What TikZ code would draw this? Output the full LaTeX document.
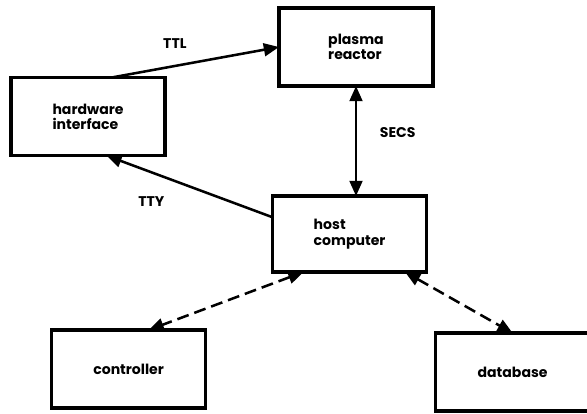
\documentclass[tikz,border=0pt]{standalone}
\usepackage{fontspec}
\setmainfont{Poppins}
\usetikzlibrary{arrows.meta,positioning,calc}

\begin{document}
\begin{tikzpicture}[
  node distance=2cm and 3cm,
  unit/.style={draw,line width=2.2pt,outer sep=0pt,minimum width=3.85cm,minimum height=1.95cm,
    align=left,font=\bfseries\fontsize{10}{11}\selectfont},
  lbl/.style={font=\bfseries\fontsize{10}{11}\selectfont},
  bigtri/.tip={Triangle[length=0.38cm,width=0.32cm]},
  arr/.style={-bigtri,line width=1.8pt},
  dbl/.style={bigtri-bigtri,line width=1.8pt},
  darr/.style={bigtri-bigtri,line width=1.8pt,dash pattern=on 0.3cm off 0.15cm},
]
  \useasboundingbox (0,0) rectangle (14.675,-10.325);

  \node[unit] (PR) at (8.9,-1.175) {plasma\\reactor};
  \node[unit,below=2.75cm of PR,xshift=-0.16cm,minimum height=1.9cm] (HC) {host\\computer};
  \node[unit,left=2.85cm of PR,yshift=-1.74cm] (HW) {hardware\\interface};
  \node[unit,below left=1.45cm and 1.675cm of HC] (CT) {controller};
  \node[unit,below right=1.525cm and 0.225cm of HC] (DB) {database};

  \draw[arr] ($(HW.north west)!0.65!(HW.north east)$)
    -- node[lbl,pos=0.38,above=0.3cm]{TTL} (PR.west);
  \draw[arr] ($(HC.north west)!0.28!(HC.south west)$)
    -- node[lbl,pos=0.73,below=0.45cm]{TTY} ($(HW.south west)!0.62!(HW.south east)$);
  \draw[dbl] (PR.south) -- node[lbl,pos=0.42,right=0.45cm]{SECS} (PR.south |- HC.north);
  \draw[darr] ($(HC.south west)!0.2!(HC.south east)$) -- ($(CT.north west)!0.63!(CT.north east)$);
  \draw[darr] ($(HC.south west)!0.86!(HC.south east)$) -- (DB.north);
\end{tikzpicture}
\end{document}
